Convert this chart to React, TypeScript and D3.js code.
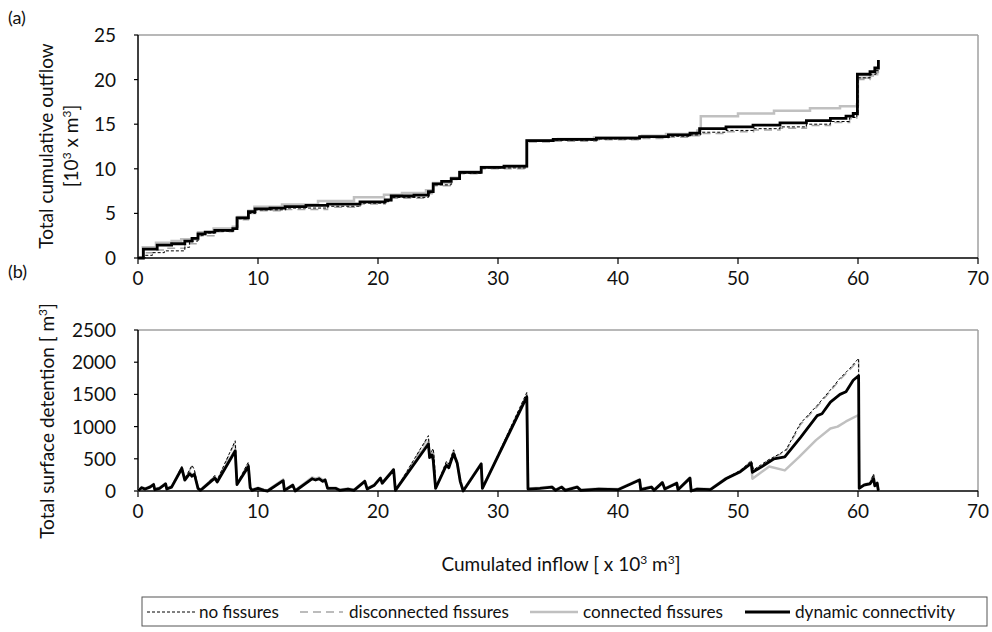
import React from "react";
import * as d3 from "d3";

type P = [number, number];

const xTicks = [0, 10, 20, 30, 40, 50, 60, 70];
const yTicksTop = [0, 5, 10, 15, 20, 25];
const yTicksBot = [0, 500, 1000, 1500, 2000, 2500];

const legendLabels = ["no fissures", "disconnected fissures", "connected fissures", "dynamic connectivity"];

// (a) Total cumulative outflow [10^3 m^3] vs cumulated inflow
const dynTop: P[] = [
  [0, 0], [0.45, 1.0], [1.6, 1.45], [2.8, 1.6], [3.9, 1.9], [4.5, 2.2], [5.0, 2.7], [5.6, 2.9], [6.4, 3.1], [7.9, 3.3],
  [8.25, 4.5], [9.2, 5.2], [9.75, 5.5], [11.0, 5.6], [12.25, 5.75], [14.0, 5.9], [15.8, 6.05], [18.5, 6.3], [20.6, 6.5],
  [21.1, 6.95], [23.0, 7.05], [24.2, 7.45], [24.6, 8.3], [25.3, 8.6], [26.1, 8.9], [26.8, 9.6], [28.6, 10.15],
  [30.5, 10.3], [32.4, 13.15], [34.6, 13.3], [38.2, 13.45], [41.8, 13.6], [44.2, 13.8], [46.0, 14.0], [46.8, 14.5],
  [49.0, 14.7], [51.25, 14.9], [53.5, 15.15], [55.7, 15.4], [57.7, 15.65], [59.0, 15.9], [59.6, 16.2], [59.95, 20.6],
  [61.0, 20.9], [61.4, 21.3], [61.7, 22.2],
];
const connTop: P[] = [
  [0, 0], [0.4, 1.2], [1.5, 1.7], [2.8, 1.9], [3.6, 2.1], [5.0, 2.9], [6.3, 3.3], [7.9, 3.5], [8.3, 4.6], [9.2, 5.3],
  [9.7, 5.75], [12.0, 6.0], [15.0, 6.4], [18.0, 6.8], [20.5, 7.1], [22.0, 7.3], [24.0, 7.6], [24.6, 8.4], [26.1, 9.0],
  [26.8, 9.7], [28.6, 10.2], [32.4, 13.2], [35.0, 13.35], [38.0, 13.5], [42.0, 13.7], [44.0, 13.9], [46.6, 14.3],
  [46.9, 15.9], [50.0, 16.2], [53.0, 16.5], [56.0, 16.8], [58.5, 17.0], [59.9, 17.2], [60.0, 20.2], [61.0, 20.6],
  [61.6, 21.2],
];
const noFissTop: P[] = [
  [0, 0], [0.6, 0.3], [1.2, 0.6], [2.2, 0.8], [3.9, 1.2], [4.3, 1.9], [5.0, 2.5], [5.6, 2.8], [6.4, 3.0], [7.9, 3.2],
  [8.3, 4.4], [9.2, 5.0], [9.8, 5.4], [12.3, 5.6], [15.8, 5.8], [18.5, 6.15], [20.6, 6.35], [21.1, 6.8], [24.2, 7.3],
  [24.6, 8.2], [26.1, 8.8], [26.8, 9.5], [28.6, 10.1], [32.4, 13.1], [34.6, 13.2], [38.2, 13.35], [41.8, 13.5],
  [44.2, 13.65], [46.0, 13.8], [46.9, 14.1], [49.0, 14.3], [51.3, 14.5], [53.5, 14.7], [55.7, 15.0], [57.7, 15.3],
  [59.3, 15.75], [59.9, 16.1], [60.0, 20.2], [61.0, 20.6], [61.5, 21.0], [61.7, 21.3],
];
const disconTop: P[] = [
  [0, 0], [0.5, 0.6], [1.4, 0.9], [2.5, 1.1], [3.9, 1.6], [5.0, 2.5], [6.4, 2.95], [7.9, 3.2], [8.3, 4.3], [9.2, 5.0],
  [9.8, 5.3], [12.3, 5.45], [15.8, 5.7], [18.5, 6.05], [20.6, 6.3], [21.1, 6.7], [24.2, 7.2], [24.6, 8.1], [26.1, 8.8],
  [26.8, 9.45], [28.6, 10.0], [32.4, 13.0], [34.6, 13.1], [38.2, 13.25], [41.8, 13.4], [44.2, 13.55], [46.0, 13.7],
  [46.9, 13.95], [49.0, 14.15], [51.3, 14.35], [53.5, 14.55], [55.7, 14.85], [57.7, 15.2], [59.3, 15.6], [59.9, 16.0],
  [60.0, 20.0], [61.0, 20.4], [61.5, 20.8], [61.7, 21.0],
];

// (b) Total surface detention [m^3] vs cumulated inflow
const dynBot: P[] = [
  [0, 0], [0.3, 50], [0.6, 30], [1.0, 60], [1.3, 100], [1.4, 20], [1.8, 40], [2.3, 110], [2.4, 30], [2.8, 60],
  [3.65, 350], [3.9, 170], [4.3, 270], [4.5, 230], [4.7, 260], [5.0, 40], [5.2, 10], [5.4, 40], [6.4, 200], [6.6, 140],
  [8.1, 620], [8.25, 100], [9.2, 380], [9.35, 50], [9.5, 10], [10.0, 40], [10.5, 10], [10.8, 0], [12.1, 160],
  [12.2, 10], [12.9, 90], [13.1, 0], [14.5, 190], [14.8, 170], [15.1, 190], [15.4, 150], [15.6, 170], [15.8, 40],
  [16.5, 40], [16.8, 10], [17.5, 30], [18.0, 10], [18.9, 150], [19.1, 30], [19.7, 90], [20.2, 200], [20.35, 120],
  [21.3, 330], [21.45, 10], [24.2, 730], [24.3, 520], [24.5, 560], [24.6, 480], [24.8, 40], [25.7, 400], [25.9, 360],
  [26.3, 580], [26.6, 430], [26.85, 150], [27.1, 0], [28.6, 420], [28.7, 40], [32.4, 1460], [32.5, 30], [33.5, 40],
  [34.5, 60], [34.8, 10], [35.3, 60], [35.6, 10], [36.6, 60], [36.9, 10], [38.4, 30], [40.0, 20], [41.8, 170],
  [41.9, 20], [42.8, 60], [43.0, 10], [43.7, 130], [43.9, 30], [44.9, 120], [45.0, 20], [46.0, 200], [46.1, 0],
  [46.6, 30], [47.7, 20], [49.0, 190], [50.2, 300], [51.1, 430], [51.2, 290], [52.0, 380], [53.0, 500], [53.9, 530],
  [55.2, 830], [56.6, 1170], [57.0, 1200], [57.7, 1380], [58.5, 1500], [59.0, 1540], [59.6, 1720], [60.05, 1790],
  [60.1, 40], [60.5, 90], [61.0, 110], [61.3, 190], [61.4, 80], [61.6, 120], [61.7, 0],
];
const connBot: P[] = [
  [0, 0], [0.3, 60], [0.6, 40], [1.0, 70], [1.3, 110], [1.4, 30], [1.8, 50], [2.3, 120], [2.4, 40], [2.8, 70],
  [3.65, 360], [3.9, 190], [4.3, 290], [4.5, 250], [4.7, 270], [5.0, 50], [5.2, 20], [5.4, 50], [6.4, 220], [6.6, 160],
  [8.1, 640], [8.25, 110], [9.2, 400], [9.35, 60], [9.5, 20], [10.0, 50], [10.5, 20], [10.8, 10], [12.1, 180],
  [12.2, 20], [12.9, 100], [13.1, 10], [14.5, 210], [14.8, 190], [15.1, 210], [15.4, 170], [15.6, 180], [15.8, 50],
  [16.5, 50], [16.8, 20], [17.5, 40], [18.0, 20], [18.9, 160], [19.1, 40], [19.7, 100], [20.2, 210], [20.35, 130],
  [21.3, 340], [21.45, 20], [24.2, 760], [24.3, 540], [24.5, 600], [24.6, 500], [24.8, 50], [25.7, 420], [25.9, 380],
  [26.3, 600], [26.6, 450], [26.85, 170], [27.1, 10], [28.6, 430], [28.7, 50], [32.4, 1480], [32.5, 40], [33.5, 50],
  [34.5, 70], [34.8, 20], [35.3, 70], [35.6, 20], [36.6, 70], [36.9, 20], [38.4, 40], [40.0, 30], [41.8, 180],
  [41.9, 30], [42.8, 70], [43.0, 20], [43.7, 140], [43.9, 40], [44.9, 130], [45.0, 30], [46.0, 210], [46.1, 10],
  [46.6, 40], [47.7, 30], [49.0, 200], [50.2, 310], [51.1, 440], [51.2, 190], [52.6, 380], [53.9, 320], [55.1, 530],
  [56.5, 790], [57.7, 970], [58.3, 1000], [59.0, 1080], [60.05, 1180], [60.1, 50], [60.5, 100], [61.0, 120],
  [61.3, 240], [61.4, 90], [61.6, 130], [61.7, 0],
];
const noFissBot: P[] = [
  [0, 0], [0.3, 50], [0.6, 30], [1.0, 70], [1.3, 110], [1.4, 20], [1.8, 40], [2.3, 120], [2.4, 30], [2.8, 60],
  [3.65, 380], [3.9, 190], [4.3, 330], [4.5, 400], [4.7, 330], [5.0, 40], [5.2, 10], [5.4, 40], [6.4, 240], [6.6, 170],
  [8.1, 780], [8.25, 110], [9.2, 450], [9.35, 50], [9.5, 10], [10.0, 40], [10.5, 10], [10.8, 0], [12.1, 170],
  [12.2, 10], [12.9, 100], [13.1, 0], [14.5, 200], [14.8, 180], [15.1, 200], [15.4, 160], [15.6, 180], [15.8, 40],
  [16.5, 40], [16.8, 10], [17.5, 30], [18.0, 10], [18.9, 160], [19.1, 30], [19.7, 100], [20.2, 210], [20.35, 130],
  [21.3, 340], [21.45, 10], [24.2, 860], [24.3, 560], [24.6, 660], [24.7, 480], [24.8, 40], [25.7, 460], [25.9, 420],
  [26.3, 640], [26.6, 450], [26.85, 160], [27.1, 0], [28.6, 430], [28.7, 40], [32.4, 1530], [32.5, 30], [33.5, 40],
  [34.5, 60], [34.8, 10], [35.3, 60], [35.6, 10], [36.6, 60], [36.9, 10], [38.4, 30], [40.0, 20], [41.8, 180],
  [41.9, 20], [42.8, 60], [43.0, 10], [43.7, 140], [43.9, 30], [44.9, 130], [45.0, 20], [46.0, 210], [46.1, 0],
  [46.6, 30], [47.7, 20], [49.0, 200], [50.2, 320], [51.1, 470], [51.3, 330], [52.5, 480], [53.5, 580], [54.0, 640],
  [55.2, 1050], [56.6, 1330], [57.7, 1570], [58.5, 1750], [59.3, 1900], [60.05, 2060], [60.1, 50], [60.5, 100],
  [61.0, 130], [61.3, 260], [61.4, 90], [61.6, 140], [61.7, 0],
];
const disconBot: P[] = [
  [0, 0], [0.3, 50], [0.6, 30], [1.0, 70], [1.3, 110], [1.4, 20], [1.8, 40], [2.3, 120], [2.4, 30], [2.8, 60],
  [3.65, 370], [3.9, 180], [4.3, 320], [4.5, 380], [4.7, 320], [5.0, 40], [5.2, 10], [5.4, 40], [6.4, 230], [6.6, 160],
  [8.1, 760], [8.25, 110], [9.2, 440], [9.35, 50], [9.5, 10], [10.0, 40], [10.5, 10], [10.8, 0], [12.1, 170],
  [12.2, 10], [12.9, 100], [13.1, 0], [14.5, 200], [14.8, 180], [15.1, 200], [15.4, 160], [15.6, 180], [15.8, 40],
  [16.5, 40], [16.8, 10], [17.5, 30], [18.0, 10], [18.9, 160], [19.1, 30], [19.7, 100], [20.2, 210], [20.35, 130],
  [21.3, 340], [21.45, 10], [24.2, 840], [24.3, 550], [24.6, 640], [24.7, 480], [24.8, 40], [25.7, 450], [25.9, 410],
  [26.3, 630], [26.6, 450], [26.85, 160], [27.1, 0], [28.6, 430], [28.7, 40], [32.4, 1510], [32.5, 30], [33.5, 40],
  [34.5, 60], [34.8, 10], [35.3, 60], [35.6, 10], [36.6, 60], [36.9, 10], [38.4, 30], [40.0, 20], [41.8, 180],
  [41.9, 20], [42.8, 60], [43.0, 10], [43.7, 140], [43.9, 30], [44.9, 130], [45.0, 20], [46.0, 210], [46.1, 0],
  [46.6, 30], [47.7, 20], [49.0, 200], [50.2, 315], [51.1, 460], [51.3, 320], [52.5, 470], [53.5, 570], [54.0, 620],
  [55.2, 1030], [56.6, 1310], [57.7, 1550], [58.5, 1730], [59.3, 1880], [60.05, 2030], [60.1, 50], [60.5, 100],
  [61.0, 130], [61.3, 250], [61.4, 90], [61.6, 140], [61.7, 0],
];

const FONT = "Lato, 'Open Sans', sans-serif";

const styles = {
  noFiss: { stroke: "#000", width: 1, dash: "3,2" },
  discon: { stroke: "#a6a6a6", width: 1.5, dash: "8,5" },
  conn: { stroke: "#c0c0c0", width: 2.5, dash: undefined as string | undefined },
  dyn: { stroke: "#000", width: 2.8, dash: undefined as string | undefined },
};

export default function App() {
  const x = d3.scaleLinear().domain([0, 70]).range([138, 978]);
  const yTop = d3.scaleLinear().domain([0, 25]).range([258, 35]);
  const yBot = d3.scaleLinear().domain([0, 2500]).range([491, 330]);

  const stepTop = d3.line<P>().x((d) => x(d[0])).y((d) => yTop(d[1])).curve(d3.curveStepAfter);
  const lineBot = d3.line<P>().x((d) => x(d[0])).y((d) => yBot(d[1]));

  const panel = (
    y: d3.ScaleLinear<number, number>,
    ticks: number[],
    key: string
  ) => {
    const [y0, y1] = y.range();
    return (
      <g key={key}>
        <line x1={x(0)} x2={x(70)} y1={y1} y2={y1} stroke="#a0a0a0" strokeWidth={1.5} />
        <line x1={x(70)} x2={x(70)} y1={y1} y2={y0} stroke="#a0a0a0" strokeWidth={1.5} />
        <line x1={x(0)} x2={x(70)} y1={y0} y2={y0} stroke="#000" strokeWidth={1.5} />
        <line x1={x(0)} x2={x(0)} y1={y0} y2={y1} stroke="#000" strokeWidth={1.5} />
        {xTicks.map((t) => (
          <g key={"x" + t}>
            <line x1={x(t)} x2={x(t)} y1={y0} y2={y0 + 6} stroke="#000" strokeWidth={1.2} />
            <text x={x(t)} y={y0 + 27} textAnchor="middle" fontSize={19} fontFamily={FONT} fill="#111">
              {t}
            </text>
          </g>
        ))}
        {ticks.map((t) => (
          <g key={"y" + t}>
            <line x1={x(0) - 4} x2={x(0)} y1={y(t)} y2={y(t)} stroke="#000" strokeWidth={1.2} />
            <text x={116} y={y(t) + 7} textAnchor="end" fontSize={19} fontFamily={FONT} fill="#111">
              {t}
            </text>
          </g>
        ))}
      </g>
    );
  };

  const seriesTop: [P[], keyof typeof styles][] = [
    [connTop, "conn"],
    [disconTop, "discon"],
    [noFissTop, "noFiss"],
    [dynTop, "dyn"],
  ];
  const seriesBot: [P[], keyof typeof styles][] = [
    [connBot, "conn"],
    [disconBot, "discon"],
    [noFissBot, "noFiss"],
    [dynBot, "dyn"],
  ];

  const legendKeys: (keyof typeof styles)[] = ["noFiss", "discon", "conn", "dyn"];
  const legendLine: [number, number][] = [[147, 195], [300, 343], [530, 578], [745, 790]];
  const legendText: [number, number][] = [[199, 80], [349, 160], [583, 140], [795, 160]];

  return (
    <svg
      width={992}
      height={632}
      style={{ position: "absolute", left: 0, top: 0, background: "#fff" }}
      fontFamily={FONT}
    >
      <rect x={0} y={0} width={992} height={632} fill="#fff" />
      <text x={8} y={24} fontSize={18} fill="#111">(a)</text>
      <text x={8} y={278} fontSize={18} fill="#111">(b)</text>

      {panel(yTop, yTicksTop, "top")}
      {panel(yBot, yTicksBot, "bot")}

      {seriesTop.map(([d, k]) => (
        <path
          key={"t" + k}
          d={stepTop(d) || ""}
          fill="none"
          stroke={styles[k].stroke}
          strokeWidth={styles[k].width}
          strokeDasharray={styles[k].dash}
        />
      ))}
      {seriesBot.map(([d, k]) => (
        <path
          key={"b" + k}
          d={lineBot(d) || ""}
          fill="none"
          stroke={styles[k].stroke}
          strokeWidth={styles[k].width}
          strokeDasharray={styles[k].dash}
          strokeLinejoin="round"
        />
      ))}

      <text transform="translate(53,146) rotate(-90)" textAnchor="middle" fontSize={19} fill="#111">
        Total cumulative outflow
      </text>
      <text transform="translate(78,146) rotate(-90)" textAnchor="middle" fontSize={19} fill="#111">
        [10<tspan dy={-7} fontSize={12}>3</tspan><tspan dy={7}> x m</tspan><tspan dy={-7} fontSize={12}>3</tspan><tspan dy={7}>]</tspan>
      </text>
      <text transform="translate(54,421) rotate(-90)" textAnchor="middle" fontSize={19} fill="#111">
        Total surface detention [ m<tspan dy={-7} fontSize={12}>3</tspan><tspan dy={7}>]</tspan>
      </text>

      <text x={561} y={571} textAnchor="middle" fontSize={19} fill="#111">
        Cumulated inflow [ x 10<tspan dy={-7} fontSize={12}>3</tspan><tspan dy={7}> m</tspan><tspan dy={-7} fontSize={12}>3</tspan><tspan dy={7}>]</tspan>
      </text>

      <rect x={142} y={597} width={845} height={29} fill="#fff" stroke="#555" strokeWidth={1} />
      {legendKeys.map((k, i) => (
        <g key={"lg" + k}>
          <line
            x1={legendLine[i][0]}
            x2={legendLine[i][1]}
            y1={612}
            y2={612}
            stroke={styles[k].stroke}
            strokeWidth={styles[k].width}
            strokeDasharray={styles[k].dash}
          />
          <text
            x={legendText[i][0]}
            y={618}
            fontSize={16.5}
            fill="#111"
            textLength={legendText[i][1]}
            lengthAdjust="spacingAndGlyphs"
          >
            {legendLabels[i]}
          </text>
        </g>
      ))}
    </svg>
  );
}
